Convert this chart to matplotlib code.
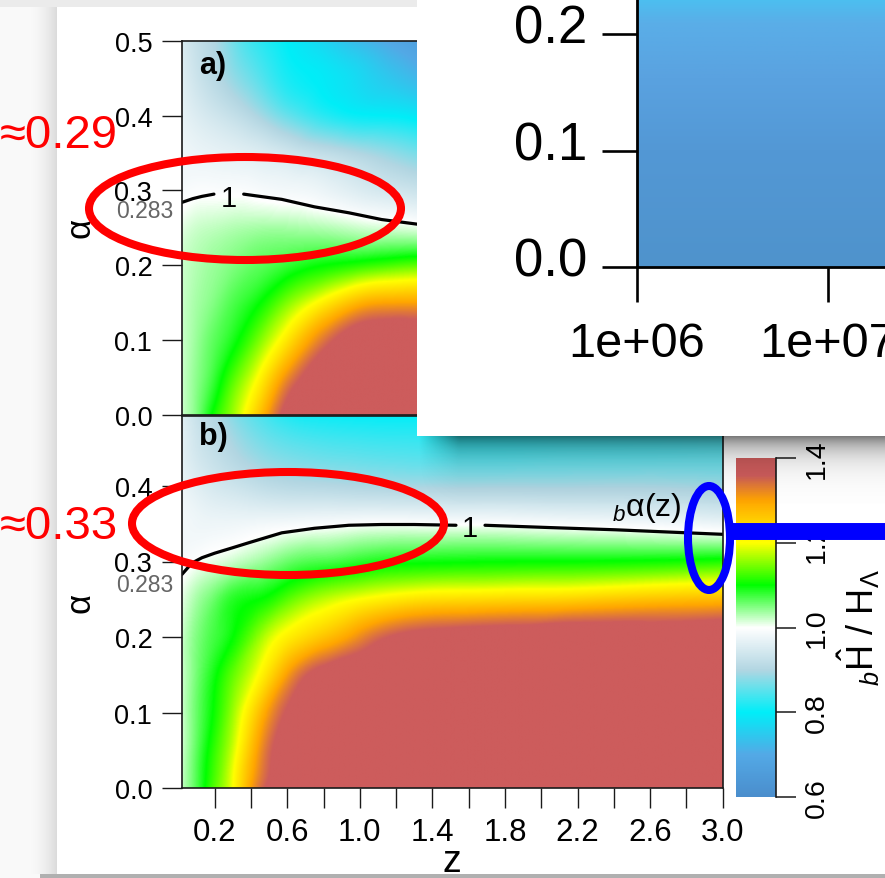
import numpy as np
import matplotlib
matplotlib.use("Agg")
import matplotlib.pyplot as plt
import matplotlib.tri as mtri
from matplotlib.colors import LinearSegmentedColormap, Normalize
from matplotlib.patches import Ellipse, Rectangle
from matplotlib.transforms import Affine2D, ScaledTranslation
from matplotlib.ticker import NullLocator
from matplotlib.cm import ScalarMappable

plt.rcParams["font.family"] = ["Liberation Sans", "DejaVu Sans"]
plt.rcParams["mathtext.fontset"] = "custom"
plt.rcParams["mathtext.rm"] = "Liberation Sans"
plt.rcParams["mathtext.it"] = "Liberation Sans:italic"
plt.rcParams["mathtext.bf"] = "Liberation Sans:bold"

# ---------------------------------------------------------------- data
alpha_nodes = [0.0, 0.05, 0.10, 0.15, 0.20, 0.25, 0.30, 0.35, 0.40, 0.45, 0.50]

# panel a) : bH / H_Lambda read on a coarse (alpha x z) grid
z_nodes_a = [0.02, 0.1, 0.2, 0.3, 0.45, 0.6, 0.8, 1.0, 1.2, 1.4]
ratio_a = [
    [1.02, 1.05, 1.11, 1.16, 1.27, 1.38, 1.40, 1.40, 1.40, 1.40],
    [1.02, 1.045, 1.08, 1.13, 1.21, 1.32, 1.39, 1.40, 1.40, 1.40],
    [1.02, 1.04, 1.065, 1.09, 1.15, 1.227, 1.338, 1.39, 1.40, 1.40],
    [1.02, 1.035, 1.05, 1.07, 1.10, 1.15, 1.217, 1.283, 1.30, 1.30],
    [1.02, 1.03, 1.04, 1.05, 1.065, 1.08, 1.10, 1.115, 1.13, 1.14],
    [1.01, 1.02, 1.025, 1.03, 1.035, 1.035, 1.03, 1.02, 1.015, 1.005],
    [0.99, 0.995, 0.995, 0.995, 0.99, 0.985, 0.975, 0.955, 0.94, 0.925],
    [0.98, 0.975, 0.97, 0.965, 0.955, 0.94, 0.92, 0.90, 0.88, 0.86],
    [0.97, 0.955, 0.94, 0.925, 0.895, 0.86, 0.825, 0.805, 0.80, 0.78],
    [0.96, 0.935, 0.91, 0.885, 0.85, 0.815, 0.795, 0.77, 0.74, 0.71],
    [0.95, 0.925, 0.90, 0.865, 0.825, 0.80, 0.765, 0.725, 0.69, 0.655],
]

# panel b)
z_nodes_b = [0.02, 0.1, 0.2, 0.3, 0.45, 0.6, 0.8, 1.0, 1.3, 1.7, 2.2, 3.0]
ratio_b = [
    [1.025, 1.07, 1.135, 1.20, 1.344, 1.39, 1.40, 1.40, 1.40, 1.40, 1.40, 1.40],
    [1.02, 1.065, 1.121, 1.182, 1.315, 1.385, 1.40, 1.40, 1.40, 1.40, 1.40, 1.40],
    [1.02, 1.06, 1.106, 1.161, 1.273, 1.364, 1.395, 1.40, 1.40, 1.40, 1.40, 1.40],
    [1.02, 1.055, 1.095, 1.138, 1.207, 1.305, 1.38, 1.395, 1.40, 1.40, 1.40, 1.40],
    [1.02, 1.05, 1.075, 1.10, 1.16, 1.215, 1.265, 1.32, 1.375, 1.39, 1.40, 1.40],
    [1.01, 1.035, 1.06, 1.085, 1.10, 1.133, 1.173, 1.20, 1.229, 1.24, 1.25, 1.275],
    [0.99, 1.0, 1.01, 1.02, 1.037, 1.058, 1.071, 1.083, 1.094, 1.098, 1.10, 1.11],
    [0.985, 0.98, 0.978, 0.979, 0.983, 0.987, 0.992, 0.997, 0.998, 0.997, 0.99, 0.975],
    [0.975, 0.96, 0.945, 0.935, 0.92, 0.91, 0.905, 0.90, 0.895, 0.895, 0.895, 0.89],
    [0.965, 0.94, 0.92, 0.90, 0.875, 0.86, 0.85, 0.845, 0.84, 0.84, 0.845, 0.85],
    [0.955, 0.925, 0.90, 0.87, 0.84, 0.81, 0.80, 0.795, 0.795, 0.80, 0.81, 0.82],
]

# contour "1" (bH/H_Lambda = 1), gap where the label sits
contour_a_z = [0.02, 0.08, 0.13, 0.196, np.nan, 0.36, 0.57, 0.75, 0.94, 1.12, 1.31, 1.40]
contour_a_alpha = [0.284, 0.289, 0.292, 0.295, np.nan, 0.295, 0.288, 0.278, 0.270, 0.261, 0.255, 0.252]
contour_b_z = [0.02, 0.075, 0.13, 0.2, 0.296, 0.39, 0.57, 0.75, 0.94, 1.12, 1.30, 1.53,
               np.nan, 1.69, 2.04, 2.41, 2.90, 3.0]
contour_b_alpha = [0.283, 0.298, 0.305, 0.311, 0.318, 0.325, 0.338, 0.344, 0.348, 0.349, 0.349, 0.348,
                   np.nan, 0.348, 0.345, 0.342, 0.337, 0.336]

z_ticks = [0.2, 0.4, 0.6, 0.8, 1.0, 1.2, 1.4, 1.6, 1.8, 2.0, 2.2, 2.4, 2.6, 2.8, 3.0]
z_ticklabels = ["0.2", "", "0.6", "", "1.0", "", "1.4", "", "1.8", "", "2.2", "", "2.6", "", "3.0"]
alpha_ticks_a = [0.0, 0.1, 0.2, 0.3, 0.4, 0.5]
alpha_ticks_b = [0.0, 0.1, 0.2, 0.3, 0.4]
cbar_ticks = [0.6, 0.8, 1.0, 1.2, 1.4]

# colour scale
cmap_nodes = [0.6, 0.7, 0.8, 0.9, 1.0, 1.1, 1.2, 1.3, 1.36, 1.4]
cmap_colors = ["#4a8dcc", "#53a9e6", "#00eef8", "#b2d6e2", "#ffffff",
               "#00ff00", "#ffff00", "#ffa500", "#cd5c5c", "#cd5c5c"]

# inset bar chart
inset_bar_left = [1e6]
inset_bar_right = [1e8]
inset_bar_value = [0.30]
inset_yticks = [0.0, 0.1, 0.2]
inset_xticks = [1e6, 1e7]
inset_xticklabels = ["1e+06", "1e+07"]

# annotations
note_a = "≈0.29"
note_b = "≈0.33"

# ---------------------------------------------------------------- figure
W, H, DPI = 885, 879, 100
fig = plt.figure(figsize=(W / DPI, H / DPI), dpi=DPI)
fig.patch.set_facecolor("#f9f9f9")
PX = Affine2D().scale(1 / DPI, -1 / DPI).translate(0, H / DPI) + fig.dpi_scale_trans


def px_axes(z):
    a = fig.add_axes([0, 0, 1, 1], zorder=z)
    a.set_axis_off()
    a.set_xlim(0, W)
    a.set_ylim(H, 0)
    return a


# page background
bg = px_axes(-10)
bg.add_patch(Rectangle((0, 0), W, 8, color="#ebebeb", lw=0))
bg.add_patch(Rectangle((57, 8), W - 57, 867, color="white", lw=0))
grad = np.zeros((1, 40, 4))
grad[..., 3] = 0.12 * np.linspace(0, 1, 40) ** 2
bg.imshow(grad, extent=[25, 57, 875, 8], aspect="auto", interpolation="bilinear")
bg.add_patch(Rectangle((40, 875.5), W - 40, 4, color="#b0b0b0", lw=0))
bg.set_xlim(0, W)
bg.set_ylim(H, 0)

pos = [(v - cmap_nodes[0]) / (cmap_nodes[-1] - cmap_nodes[0]) for v in cmap_nodes]
pos[0], pos[-1] = 0.0, 1.0
cmap = LinearSegmentedColormap.from_list("hh", list(zip(pos, cmap_colors)), N=512)
cmap.set_over("#cd5c5c")
cmap.set_under("#4a8dcc")
norm = Normalize(0.6, 1.4)


def smooth_field(zn, an, vals, nzf=700, naf=360):
    zn = np.asarray(zn, float)
    an = np.asarray(an, float)
    V = np.asarray(vals, float)
    nz, na = len(zn), len(an)
    ZZ, AA = np.meshgrid(zn, an)
    tris = []
    for j in range(na - 1):
        for i in range(nz - 1):
            p = j * nz + i
            tris.append([p, p + 1, p + nz + 1])
            tris.append([p, p + nz + 1, p + nz])
    sc = 5.0
    tri = mtri.Triangulation(ZZ.ravel(), AA.ravel() * sc, np.array(tris))
    f = mtri.CubicTriInterpolator(tri, V.ravel(), kind="min_E")
    eps = 1e-7
    zf = np.linspace(zn[0] + eps, zn[-1] - eps, nzf)
    af = np.linspace(an[0] + eps, an[-1] - eps, naf)
    ZF, AF = np.meshgrid(zf, af)
    out = f(ZF, AF * sc)
    return np.ma.filled(out, 1.0)


ZL, ZR = 0.02, 3.0
x0, x1 = 182, 722.7
ax_b = fig.add_axes([x0 / W, 1 - 789 / H, (x1 - x0) / W, (789 - 416.5) / H], zorder=1)
ax_a = fig.add_axes([x0 / W, 1 - 415.5 / H, (x1 - x0) / W, (415.5 - 42) / H], zorder=2)

for ax, zn, vals, ytop in ((ax_a, z_nodes_a, ratio_a, 0.5), (ax_b, z_nodes_b, ratio_b, (789 - 416.5) / 755)):
    F = smooth_field(zn, alpha_nodes, vals)
    ax.imshow(F, extent=[zn[0], zn[-1], alpha_nodes[0], alpha_nodes[-1]], origin="lower",
              aspect="auto", cmap=cmap, norm=norm, interpolation="bilinear")
    ax.set_xlim(ZL, ZR)
    ax.set_ylim(0, ytop)
    for s in ax.spines.values():
        s.set_linewidth(1.2)
        s.set_color("#1a1a1a")
    ax.tick_params(direction="out", length=14.4, width=1.0, color="#1a1a1a", pad=7)
    ax.tick_params(axis="y", labelsize=19.5)
    ax.tick_params(axis="x", labelsize=22.5, pad=6.5)

ax_a.set_xticks([])
ax_a.set_yticks(alpha_ticks_a, labels=[f"{v:.1f}" for v in alpha_ticks_a])
ax_b.set_yticks(alpha_ticks_b, labels=[f"{v:.1f}" for v in alpha_ticks_b])
ax_b.set_xticks(z_ticks, labels=z_ticklabels)

ax_a.plot(contour_a_z, contour_a_alpha, color="black", lw=2.3, solid_capstyle="round")
ax_b.plot(contour_b_z, contour_b_alpha, color="black", lw=2.3, solid_capstyle="round")

# texts of the original figure
def ptext(x, y, s, **kw):
    kw.setdefault("zorder", 3)
    return fig.text(x, y, s, transform=PX, **kw)

ptext(199, 66, "a)", fontsize=22, fontweight="bold", ha="left", va="center")
ptext(199, 437, "b)", fontsize=22, fontweight="bold", ha="left", va="center")
ptext(229, 199, "1", fontsize=21, ha="center", va="center")
ptext(470, 529, "1", fontsize=21, ha="center", va="center")
ptext(612, 516, r"${}_{b}$α(z)", fontsize=23, ha="left", va="baseline")
ptext(173, 211, "0.283", fontsize=16.5, color="#666666", ha="right", va="center")
ptext(173, 585, "0.283", fontsize=16.5, color="#666666", ha="right", va="center")
ptext(80, 228, "α", fontsize=25, rotation=90, ha="center", va="center")
ptext(80, 603, "α", fontsize=25, rotation=90, ha="center", va="center")
ptext(452, 862, "z", fontsize=27, ha="center", va="center")

# colour bar
cax = fig.add_axes([736 / W, 1 - 798 / H, 40 / W, 339 / H], zorder=1)
cb = fig.colorbar(ScalarMappable(norm=norm, cmap=cmap), cax=cax, ticks=cbar_ticks)
cb.outline.set_visible(False)
cax.yaxis.set_ticks_position("right")
cax.tick_params(length=14.4, width=1.1, labelsize=20.5, pad=6, direction="out", color="#1a1a1a")
cax.set_yticks(cbar_ticks, labels=[f"{v:.1f}" for v in cbar_ticks])
plt.setp(cax.get_yticklabels(), rotation=90, va="center", ha="left")
cax.plot([1, 1], [0, 1], transform=cax.transAxes, color="#1a1a1a", lw=1.2, clip_on=False)
ptext(859, 628, r"${}_{b}\hat{\mathrm{H}}$ / H$_{\Lambda}$", fontsize=26, rotation=90,
      ha="center", va="center")

# ---------------------------------------------------------------- inset overlay
lay = px_axes(5)
SX, SY = np.meshgrid(np.linspace(400, 890, 250), np.linspace(437, 505, 70))
sh = np.zeros(SX.shape + (4,))
sh[..., 3] = 0.52 * np.exp(-(SY - 437) / 16.0) * np.clip((SX - 418) / 40.0, 0, 1)
lay.imshow(sh, extent=[400, 890, 505, 437], origin="upper", aspect="auto", interpolation="bilinear")
lay.add_patch(Rectangle((417, -10), 480, 447, facecolor="white", edgecolor="none"))
lay.set_xlim(0, W)
lay.set_ylim(H, 0)

iax = fig.add_axes([637 / W, 1 - 268 / H, (1019 - 637) / W, 291 / H], zorder=6)
iax.set_facecolor("none")
iax.set_xscale("log")
iax.set_autoscale_on(False)
iax.set_xlim(1e6, 1e8)
iax.set_ylim(0, 0.25)
bars = iax.bar(inset_bar_left, inset_bar_value,
               width=[r - l for l, r in zip(inset_bar_left, inset_bar_right)],
               align="edge", color="#5399d6", edgecolor="none")
bar_cmap = LinearSegmentedColormap.from_list(
    "bar", [(0.0, "#4f93cc"), (0.4, "#5398d5"), (0.65, "#5aa2e0"), (0.84, "#5aaee8"),
            (0.92, "#4cbff0"), (1.0, "#40c8f2")])
gim = iax.imshow(np.linspace(0, 1, 256).reshape(-1, 1), extent=[0, 1, 0, 1], origin="lower",
                 transform=iax.transAxes, cmap=bar_cmap, aspect="auto", zorder=2)
gim.set_clip_path(bars[0])
iax.set_xlim(1e6, 1e8)
iax.set_ylim(0, 0.25)
iax.spines["top"].set_visible(False)
iax.spines["right"].set_visible(False)
for s in ("left", "bottom"):
    iax.spines[s].set_linewidth(2.0)
    iax.spines[s].set_zorder(4)
iax.set_yticks(inset_yticks, labels=[f"{v:.1f}" for v in inset_yticks])
iax.set_xticks(inset_xticks, labels=inset_xticklabels)
iax.xaxis.set_minor_locator(NullLocator())
iax.tick_params(axis="both", direction="out", length=25, width=1.9, color="black")
iax.tick_params(axis="y", labelsize=38, pad=11)
iax.tick_params(axis="x", labelsize=35, pad=14)
off = ScaledTranslation(0, 0.11, fig.dpi_scale_trans)
for t in iax.get_yticklabels():
    t.set_transform(t.get_transform() + off)

# ---------------------------------------------------------------- annotations
ann = px_axes(10)
ann.add_patch(Ellipse((245, 209.5), 312, 103, fill=False, edgecolor="#ff0000", lw=5.8))
ann.add_patch(Ellipse((288, 524.5), 312, 103, fill=False, edgecolor="#ff0000", lw=5.8))
ann.add_patch(Ellipse((709, 539), 42, 104, fill=False, edgecolor="#0000ff", lw=5.8))
ann.plot([729, 890], [531.5, 531.5], color="#0000ff", lw=12.2, solid_capstyle="butt")
ann.text(0, 136, note_a, color="#ff0000", fontsize=34, ha="left", va="center")
ann.text(0, 527, note_b, color="#ff0000", fontsize=34, ha="left", va="center")
ann.set_xlim(0, W)
ann.set_ylim(H, 0)

fig.savefig("out.png", dpi=DPI, facecolor=fig.get_facecolor())
